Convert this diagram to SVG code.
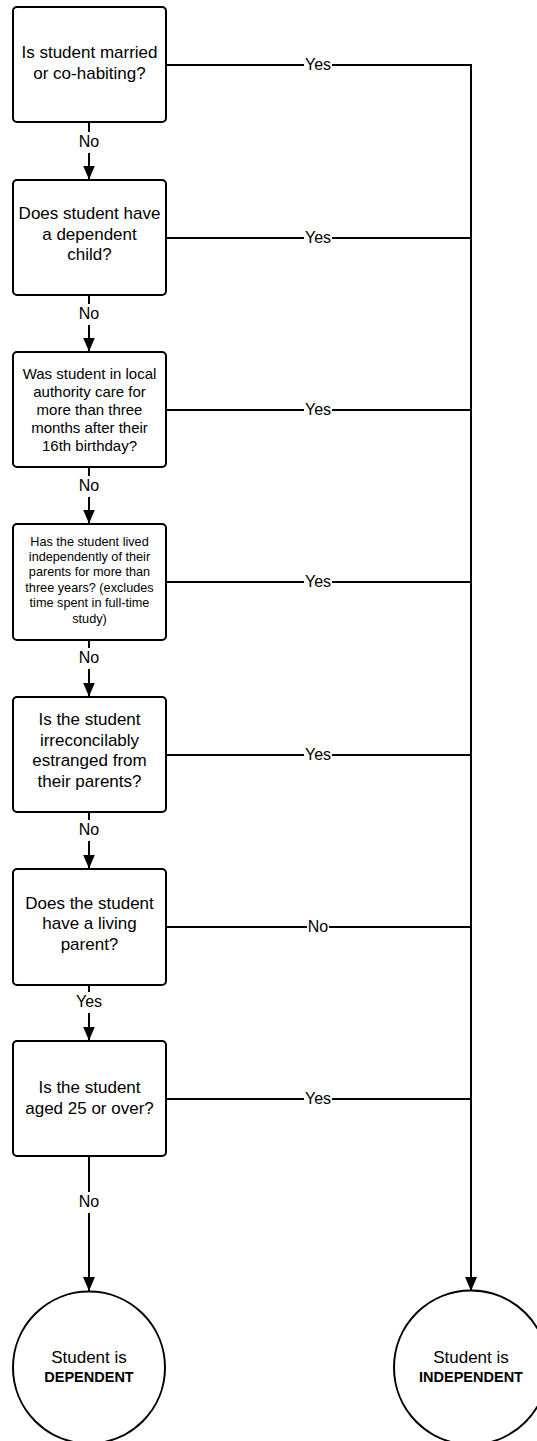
<svg xmlns="http://www.w3.org/2000/svg" width="537" height="1441" viewBox="0 0 537 1441">
<style>
.box{fill:#fff;stroke:#000;stroke-width:2}
.ln{fill:none;stroke:#000;stroke-width:2}
.t{font-family:"Liberation Sans",Arial,sans-serif;fill:#000;text-anchor:middle}
.t17{font-size:17px}
.t15{font-size:15px}
.t13{font-size:12.7px}
.lbl{font-family:"Liberation Sans",Arial,sans-serif;font-size:16px;fill:#000;text-anchor:middle}
.lb{fill:#fff}
.b{font-weight:bold;font-size:14.5px}
</style>
<defs>
<marker id="ah" markerWidth="14" markerHeight="12" refX="14" refY="6" orient="auto" markerUnits="userSpaceOnUse" viewBox="0 0 14 12">
<path d="M0,0 L14,6 L0,12 Z" fill="#000"/>
</marker>
</defs>
<rect width="537" height="1441" fill="#fff"/>
<g id="connectors">
<path class="ln" d="M89,122 V179.5" marker-end="url(#ah)"/>
<path class="ln" d="M89,295 V351.5" marker-end="url(#ah)"/>
<path class="ln" d="M89,467 V523.5" marker-end="url(#ah)"/>
<path class="ln" d="M89,640 V696.5" marker-end="url(#ah)"/>
<path class="ln" d="M89,812 V868.5" marker-end="url(#ah)"/>
<path class="ln" d="M89,985 V1040.5" marker-end="url(#ah)"/>
<path class="ln" d="M89,1156 V1291" marker-end="url(#ah)"/>
<path class="ln" d="M166,65 H471 V1291" marker-end="url(#ah)"/>
<path class="ln" d="M166,238 H471"/>
<path class="ln" d="M166,410 H471"/>
<path class="ln" d="M166,582 H471"/>
<path class="ln" d="M166,755 H471"/>
<path class="ln" d="M166,927 H471"/>
<path class="ln" d="M166,1099 H471"/>
<g>
<rect class="lb" x="78" y="132" width="22" height="21"/><text class="lbl" x="89" y="147">No</text>
<rect class="lb" x="78" y="304" width="22" height="21"/><text class="lbl" x="89" y="319">No</text>
<rect class="lb" x="78" y="476" width="22" height="21"/><text class="lbl" x="89" y="491">No</text>
<rect class="lb" x="78" y="648" width="22" height="21"/><text class="lbl" x="89" y="663">No</text>
<rect class="lb" x="78" y="820" width="22" height="21"/><text class="lbl" x="89" y="835">No</text>
<rect class="lb" x="75" y="992" width="28" height="21"/><text class="lbl" x="89" y="1007">Yes</text>
<rect class="lb" x="78" y="1192" width="22" height="21"/><text class="lbl" x="89" y="1207">No</text>
<rect class="lb" x="304" y="55" width="28" height="20"/><text class="lbl" x="318" y="70">Yes</text>
<rect class="lb" x="304" y="228" width="28" height="20"/><text class="lbl" x="318" y="243">Yes</text>
<rect class="lb" x="304" y="400" width="28" height="20"/><text class="lbl" x="318" y="415">Yes</text>
<rect class="lb" x="304" y="572" width="28" height="20"/><text class="lbl" x="318" y="587">Yes</text>
<rect class="lb" x="304" y="745" width="28" height="20"/><text class="lbl" x="318" y="760">Yes</text>
<rect class="lb" x="307" y="917" width="22" height="20"/><text class="lbl" x="318" y="932">No</text>
<rect class="lb" x="304" y="1089" width="28" height="20"/><text class="lbl" x="318" y="1104">Yes</text>
</g>
</g>
<g id="q1">
<rect class="box" x="13" y="7" width="153" height="115" rx="4"/>
<text class="t t17"><tspan x="89.5" y="58">Is student married</tspan><tspan x="89.5" y="78.5">or co-habiting?</tspan></text>
</g>
<g id="q2">
<rect class="box" x="13" y="180" width="153" height="115" rx="4"/>
<text class="t t17"><tspan x="89.5" y="219">Does student have</tspan><tspan x="89.5" y="239.5">a dependent</tspan><tspan x="89.5" y="260">child?</tspan></text>
</g>
<g id="q3">
<rect class="box" x="13" y="352" width="153" height="115" rx="4"/>
<text class="t t15"><tspan x="89.5" y="379">Was student in local</tspan><tspan x="89.5" y="397">authority care for</tspan><tspan x="89.5" y="415">more than three</tspan><tspan x="89.5" y="433">months after their</tspan><tspan x="89.5" y="451">16th birthday?</tspan></text>
</g>
<g id="q4">
<rect class="box" x="13" y="524" width="153" height="116" rx="4"/>
<text class="t t13"><tspan x="89.5" y="545.5">Has the student lived</tspan><tspan x="89.5" y="560.9">independently of their</tspan><tspan x="89.5" y="576.3">parents for more than</tspan><tspan x="89.5" y="591.7">three years? (excludes</tspan><tspan x="89.5" y="607.1">time spent in full-time</tspan><tspan x="89.5" y="622.5">study)</tspan></text>
</g>
<g id="q5">
<rect class="box" x="13" y="697" width="153" height="115" rx="4"/>
<text class="t t17"><tspan x="89.5" y="725">Is the student</tspan><tspan x="89.5" y="745.7">irreconcilably</tspan><tspan x="89.5" y="766.4">estranged from</tspan><tspan x="89.5" y="787.1">their parents?</tspan></text>
</g>
<g id="q6">
<rect class="box" x="13" y="869" width="153" height="116" rx="4"/>
<text class="t t17"><tspan x="89.5" y="908.5">Does the student</tspan><tspan x="89.5" y="929.3">have a living</tspan><tspan x="89.5" y="950">parent?</tspan></text>
</g>
<g id="q7">
<rect class="box" x="13" y="1041" width="153" height="115" rx="4"/>
<text class="t t17"><tspan x="89.5" y="1093">Is the student</tspan><tspan x="89.5" y="1113.5">aged 25 or over?</tspan></text>
</g>
<g id="dependent">
<circle class="box" cx="89" cy="1367.5" r="76"/>
<text class="t t17"><tspan x="89" y="1363">Student is</tspan><tspan class="b" x="89" y="1381.5">DEPENDENT</tspan></text>
</g>
<g id="independent">
<circle class="box" cx="471" cy="1367.5" r="77"/>
<text class="t t17"><tspan x="471" y="1363">Student is</tspan><tspan class="b" x="471" y="1381.5">INDEPENDENT</tspan></text>
</g>
</svg>
